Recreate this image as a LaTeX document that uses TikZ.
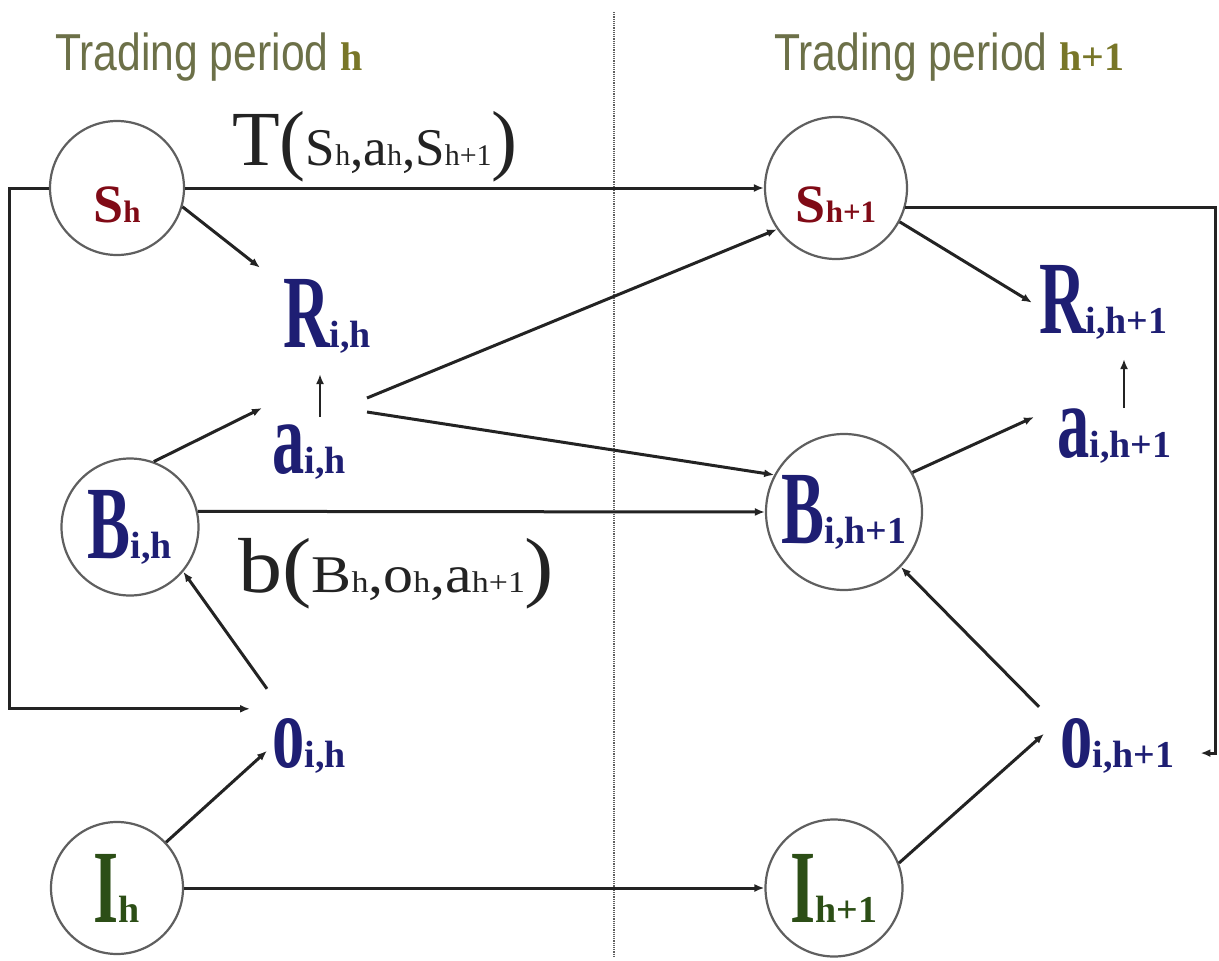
\documentclass[tikz,border=0pt]{standalone}
\usepackage{fontspec}
\setmainfont{Liberation Serif}
\newfontfamily\headfont{Liberation Sans}
\usetikzlibrary{arrows.meta}
\definecolor{stred}{RGB}{128,10,22}
\definecolor{agblue}{RGB}{30,30,115}
\definecolor{inkgreen}{RGB}{44,78,22}
\definecolor{headolive}{RGB}{108,112,72}
\definecolor{headh}{RGB}{120,118,40}
\definecolor{rimgray}{RGB}{95,95,95}
\definecolor{wire}{RGB}{35,35,35}
% label pieces
\newcommand{\bigsym}[2]{\scalebox{0.62}[1]{\fontsize{104}{104}\selectfont\bfseries #1}{\fontsize{38}{38}\selectfont\bfseries #2}}
\newcommand{\stsym}[1]{\raisebox{-34pt}[0pt][0pt]{{\fontsize{54}{54}\selectfont\bfseries S}{\fontsize{31}{31}\selectfont\bfseries #1}}}
\newcommand{\period}[1]{{\headfont\scalebox{0.82}[1]{\fontsize{52}{52}\selectfont Trading period\ }}{\color{headh}\fontsize{40}{40}\selectfont\bfseries #1}}
\newcommand{\tbig}{\fontsize{78}{78}\selectfont}
\newcommand{\tmid}{\fontsize{53}{53}\selectfont}
\newcommand{\tsub}{\fontsize{30}{30}\selectfont}

\begin{document}
\begin{tikzpicture}[x=1pt,y=-1pt,
  ring/.style={circle,draw=rimgray,line width=2.2pt,inner sep=0pt,minimum size=#1},
  ring/.default=134pt,
  var/.style={inner sep=0pt,anchor=base west,text=agblue},
  tag/.style={inner sep=0pt,anchor=base west},
  link/.style={draw=wire,line width=3pt,-{Latex[length=10pt,width=8pt]}}
]
\useasboundingbox (0,0) rectangle (1219,961);
% --- period divider and headings ---
\draw[rimgray,line width=1.2pt,densely dotted] (614,12) -- (614,958);
\node[tag,text=headolive] (th) at (55,70) {\period{h}};
\node[tag,text=headolive] (th2) at (774,70) {\period{h+1}};
% --- chance nodes ---
\node[ring=134pt,text=stred] (sh) at (117,188) {\stsym{h}};
\node[ring=142pt,text=stred] (s2) at (836,188) {\stsym{h+1}};
\node[ring=137pt,text=agblue] (bh) at (130,527) {\bigsym{B}{i,h}};
\node[ring=156pt,text=agblue] (b2) at (844,512) {\bigsym{B}{i,h+1}};
\node[ring=132pt,text=inkgreen] (ih) at (117,888) {\bigsym{I}{h}};
\node[ring=137pt,text=inkgreen] (i2) at (834,888) {\bigsym{I}{h+1}};
% --- plain variables ---
\node[var] (rh) at (283,347) {\bigsym{R}{i,h}};
\node[var] (ah) at (272,473) {\bigsym{a}{i,h}};
\node[var] (oh) at (272,767) {\bigsym{o}{i,h}};
\node[var] (r2) at (1039,333) {\bigsym{R}{i,h+1}};
\node[var] (a2) at (1057,457) {\bigsym{a}{i,h+1}};
\node[var] (o2) at (1060,767) {\bigsym{o}{i,h+1}};
% --- functions ---
\node[tag,text=wire] (trans) at (232,165) {{\tbig T(}{\tmid S}{\tsub h}{\tmid ,a}{\tsub h}{\tmid ,S}{\tsub h+1}{\tbig )}};
\node[tag,text=wire] (upd) at (238,592) {\scalebox{1.13}[1]{{\tbig b(}{\tmid B}{\tsub h}{\tmid ,o}{\tsub h}{\tmid ,a}{\tsub h+1}{\tbig )}}};
% --- links, period h ---
\draw[link] (sh) -- (s2);
\draw[link] (sh.west) -- ++(-39,0) |- ([shift={(-22,-9)}]oh.north west);
\draw[link] (sh.-16) -- ([shift={(-23,-11)}]rh.north west);
\draw[link,line width=2pt] ([shift={(48,-7)}]ah.north west) -- ([shift={(37,21)}]rh.south west);
\draw[link] (bh.70) -- ([shift={(-10,-16)}]ah.north west);
\draw[link] ([shift={(95,-26)}]ah.north west) -- (s2.215);
\draw[link] ([shift={(95,-12)}]ah.north west) -- (b2.152);
\draw[link] (bh.13) -- (b2.west);
\draw[link] ([shift={(-5,-29)}]oh.north west) -- (bh.-40);
\draw[link] (ih.43) -- ([shift={(-5,33)}]oh.north west);
\draw[link] (ih) -- (i2);
% --- links, period h+1 ---
\draw[link] (s2.-28) -- ([shift={(-7,38)}]r2.north west);
\draw[link,line width=2pt] ([shift={(67,0)}]a2.north west) -- ([shift={(85,20)}]r2.south west);
\draw[link] (b2.30) -- ([shift={(-23,9)}]a2.north west);
\draw[link] (s2.-16) -- ++(310,0) |- ([shift={(26,-20)}]o2.south east);
\draw[link] ([shift={(-21,-11)}]o2.north west) -- (b2.-44);
\draw[link] (i2.21) -- ([shift={(-16,16)}]o2.north west);
\end{tikzpicture}
\end{document}
